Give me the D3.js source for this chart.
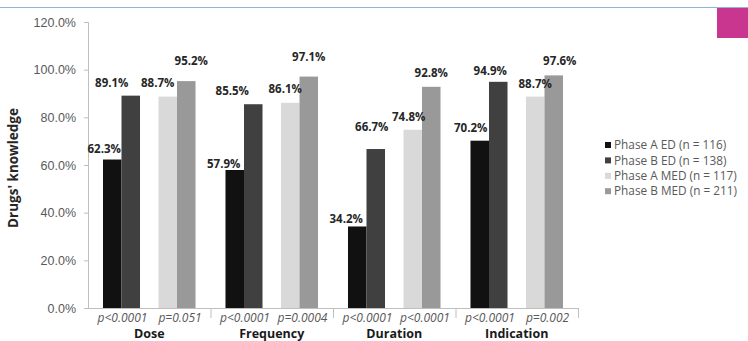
<!DOCTYPE html>
<html>
<head>
<meta charset="utf-8">
<script src="https://cdn.jsdelivr.net/npm/d3@7"></script>
<style>
  html, body { margin: 0; padding: 0; background: #fff; }
  svg { display: block; font-family: "Open Sans", "Noto Sans", sans-serif; }
</style>
</head>
<body>
<svg id="chart" width="748" height="341"></svg>
<script>
// ---- data ----
const categories = ["Dose", "Frequency", "Duration", "Indication"];
const seriesNames = ["Phase A ED (n = 116)", "Phase B ED (n = 138)", "Phase A MED (n = 117)", "Phase B MED (n = 211)"];
const phaseA_ED  = [62.3, 57.9, 34.2, 70.2];
const phaseB_ED  = [89.1, 85.5, 66.7, 94.9];
const phaseA_MED = [88.7, 86.1, 74.8, 88.7];
const phaseB_MED = [95.2, 97.1, 92.8, 97.6];
const pValuesED  = ["p<0.0001", "p<0.0001", "p<0.0001", "p<0.0001"];
const pValuesMED = ["p=0.051", "p=0.0004", "p<0.0001", "p=0.002"];
const yTicks = [0, 20, 40, 60, 80, 100, 120];

// ---- layout / style (not data) ----
const colors = ["#111111", "#404040", "#d9d9d9", "#999999"];
// hand-placed data label nudges [dx, dy] per category, per series
const labelNudge = [
  [[-8, -11], [-19, -13], [-10, -14], [5, -20]],
  [[-11, -6], [-21, -13], [-5, -14], [0, -20]],
  [[-11, -8], [-4, -22], [-4, -13], [0, -14]],
  [[-9, -13], [-8, -11], [0, -13], [6, -14]]
];

const svg = d3.select("#chart");
const plotLeft = 88, plotRight = 578, plotTop = 22, plotBottom = 308;

// decorative header line and square
svg.append("line").attr("x1", 0).attr("x2", 748).attr("y1", 7.5).attr("y2", 7.5)
  .attr("stroke", "#8fb4dc").attr("stroke-width", 1.2);
svg.append("rect").attr("x", 717).attr("y", 8).attr("width", 31).attr("height", 30).attr("fill", "#c8368f");

const y = d3.scaleLinear().domain([0, 120]).range([plotBottom, plotTop]);
const x = d3.scaleBand().domain(categories).range([plotLeft, plotRight]).padding(0);
const sub = d3.scaleBand().domain(["ED", "MED"]).range([0, x.bandwidth()])
  .paddingInner(0.333).paddingOuter(0.27);
const inner = d3.scaleBand().domain([0, 1]).range([0, sub.bandwidth()]).padding(0);

const seriesValues = [phaseA_ED, phaseB_ED, phaseA_MED, phaseB_MED];
const seriesGroup = ["ED", "ED", "MED", "MED"];
const seriesSlot = [0, 1, 0, 1];

const bars = [];
categories.forEach((c, ci) => {
  seriesValues.forEach((vals, si) => {
    bars.push({ cat: c, ci, si, value: vals[ci] });
  });
});
const barX = d => x(d.cat) + sub(seriesGroup[d.si]) + inner(seriesSlot[d.si]);

// y axis
const yAxis = d3.axisLeft(y).tickValues(yTicks).tickSize(4).tickPadding(8)
  .tickFormat(d => d.toFixed(1) + "%");
const gy = svg.append("g").attr("transform", `translate(${plotLeft},0)`).call(yAxis);
gy.select(".domain").attr("stroke", "#bfbfbf").attr("d", `M-4,${plotTop + 0.5}H0.5V${plotBottom}`);
gy.selectAll(".tick line").attr("stroke", "#bfbfbf");
gy.selectAll(".tick text").attr("fill", "#595959").style("font-size", "12.5px");

// bars
svg.append("g").selectAll("rect").data(bars).join("rect")
  .attr("x", barX)
  .attr("y", d => y(d.value))
  .attr("width", inner.bandwidth())
  .attr("height", d => plotBottom - y(d.value))
  .attr("fill", d => colors[d.si]);

// x axis (category boundaries)
const xa = svg.append("g");
xa.append("line").attr("x1", plotLeft - 4).attr("x2", plotRight).attr("y1", plotBottom + 0.5).attr("y2", plotBottom + 0.5)
  .attr("stroke", "#bfbfbf");
const boundaries = categories.map(c => x(c)).concat([plotRight]).slice(1);
xa.selectAll(".bt").data(boundaries).join("line")
  .attr("x1", d => d + 0.5).attr("x2", d => d + 0.5)
  .attr("y1", plotBottom).attr("y2", plotBottom + 10).attr("stroke", "#bfbfbf");

// value labels
svg.append("g").selectAll("text").data(bars).join("text")
  .attr("x", d => barX(d) + inner.bandwidth() / 2 + labelNudge[d.ci][d.si][0])
  .attr("y", d => y(d.value) + labelNudge[d.ci][d.si][1])
  .attr("dy", "0.35em")
  .attr("text-anchor", "middle")
  .attr("fill", "#262626")
  .style("font-size", "11.5px").style("font-weight", "bold")
  .text(d => d.value.toFixed(1) + "%");

// p-value sub-labels
const pRows = [];
categories.forEach((c, ci) => {
  pRows.push({ cat: c, grp: "ED", text: pValuesED[ci] });
  pRows.push({ cat: c, grp: "MED", text: pValuesMED[ci] });
});
svg.append("g").selectAll("text").data(pRows).join("text")
  .attr("x", d => x(d.cat) + sub(d.grp) + sub.bandwidth() / 2 + (d.grp === "MED" ? 3 : 1))
  .attr("y", 322)
  .attr("text-anchor", "middle")
  .attr("fill", "#595959")
  .style("font-size", "12px").style("font-style", "italic")
  .text(d => d.text);

// category labels
svg.append("g").selectAll("text").data(categories).join("text")
  .attr("x", d => x(d) + x.bandwidth() / 2)
  .attr("y", 338)
  .attr("text-anchor", "middle")
  .attr("fill", "#1a1a1a")
  .style("font-size", "12.5px").style("font-weight", "bold")
  .text(d => d);

// y title
svg.append("text")
  .attr("transform", "translate(18,168) rotate(-90)")
  .attr("text-anchor", "middle")
  .attr("fill", "#262626")
  .style("font-size", "13.5px").style("font-weight", "bold")
  .text("Drugs' knowledge");

// legend
const legend = svg.append("g").attr("transform", "translate(605,145)");
const li = legend.selectAll("g").data(seriesNames).join("g")
  .attr("transform", (d, i) => `translate(0,${i * 15.4})`);
li.append("rect").attr("x", 0).attr("y", -3).attr("width", 6).attr("height", 6)
  .attr("fill", (d, i) => colors[i]);
li.append("text").attr("x", 9).attr("dy", "0.35em")
  .attr("fill", "#595959").style("font-size", "11.8px")
  .text(d => d);
</script>
</body>
</html>
